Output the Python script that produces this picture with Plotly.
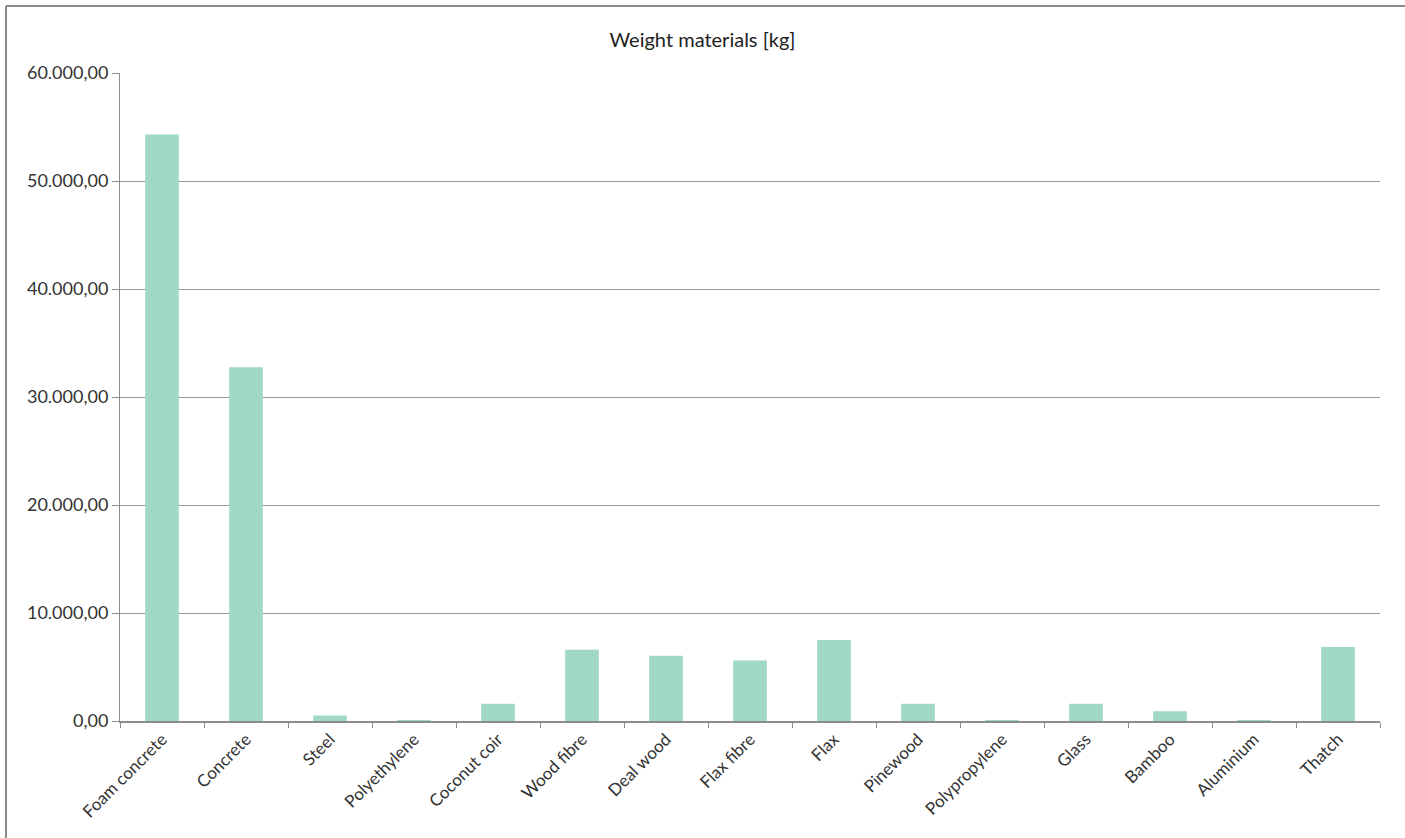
import plotly.graph_objects as go

materials = ["Foam concrete", "Concrete", "Steel", "Polyethylene", "Coconut coir",
             "Wood fibre", "Deal wood", "Flax fibre", "Flax", "Pinewood",
             "Polypropylene", "Glass", "Bamboo", "Aluminium", "Thatch"]
weight_kg = [54300, 32750, 500, 40, 1600, 6600, 6050, 5600, 7500, 1600,
             30, 1600, 900, 30, 6850]

y_ticks = [0, 10000, 20000, 30000, 40000, 50000, 60000]

FONT = "Lato, 'Open Sans', sans-serif"

fig = go.Figure(
    go.Bar(
        x=materials,
        y=weight_kg,
        marker=dict(color="#9fd9c5", line=dict(width=0)),
        hoverinfo="x+y",
    )
)

fig.update_layout(
    width=1405,
    height=838,
    margin=dict(l=120, r=25, t=73, b=117),
    paper_bgcolor="white",
    plot_bgcolor="white",
    bargap=0.6,
    showlegend=False,
    separators=",.",
    font=dict(family=FONT, color="#333333", size=16),
    title=dict(
        text="Weight materials [kg]",
        x=0.5, xref="container", xanchor="center",
        y=1 - 40 / 838, yref="container", yanchor="middle",
        font=dict(family=FONT, size=20, color="#222222"),
    ),
    xaxis=dict(
        type="category",
        tickangle=-45,
        showgrid=False,
        showline=True,
        linecolor="#8c8c8c",
        linewidth=1.5,
        ticks="outside",
        tickson="boundaries",
        ticklen=5,
        tickcolor="#8c8c8c",
        tickfont=dict(family=FONT, size=17, color="#333333"),
        range=[-0.5, len(materials) - 0.5],
    ),
    yaxis=dict(
        range=[0, 60000],
        tickvals=y_ticks,
        tickformat=",.2f",
        showgrid=True,
        gridcolor="#9a9a9a",
        gridwidth=1,
        showline=True,
        linecolor="#8c8c8c",
        linewidth=1,
        ticks="outside",
        ticklen=7,
        tickcolor="#8c8c8c",
        tickfont=dict(family=FONT, size=18, color="#333333"),
        zeroline=False,
    ),
)

# frame lines along the top and left edges of the chart
frame = dict(color="#8a8a8a", width=2)
fig.add_shape(type="line", xref="paper", yref="paper",
              x0=(6 - 120) / 1260, x1=(1405 - 120) / 1260,
              y0=(721 - 6) / 648, y1=(721 - 6) / 648, line=frame)
fig.add_shape(type="line", xref="paper", yref="paper",
              x0=(6 - 120) / 1260, x1=(6 - 120) / 1260,
              y0=(721 - 6) / 648, y1=(721 - 838) / 648, line=frame)

fig.write_html("out.html")
